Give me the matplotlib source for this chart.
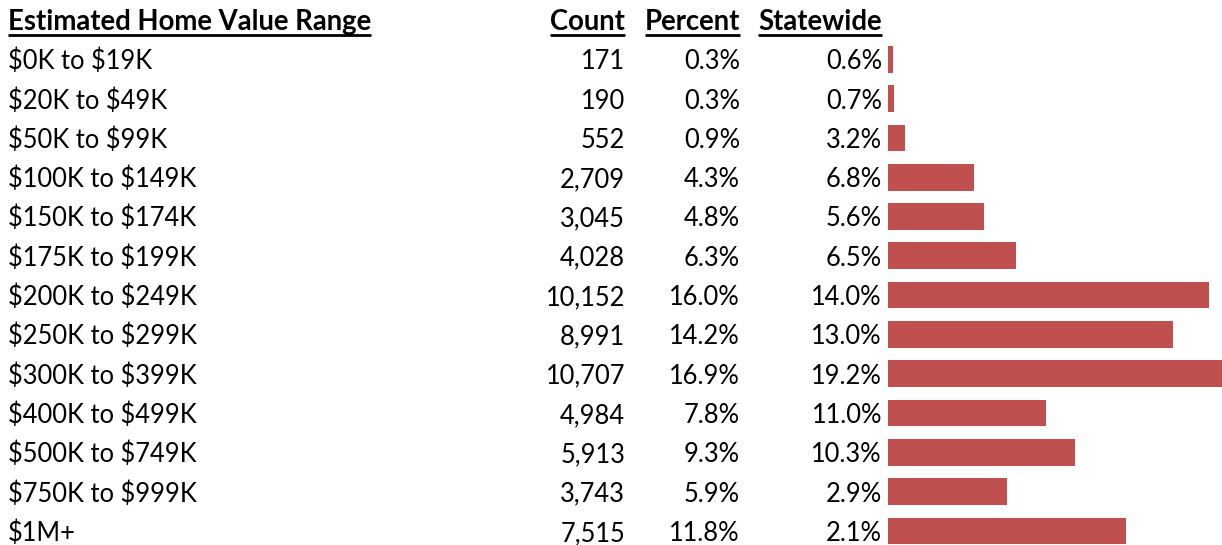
import matplotlib
matplotlib.use("Agg")
import matplotlib.pyplot as plt
from matplotlib.lines import Line2D
import matplotlib.transforms as mtransforms

plt.rcParams["text.parse_math"] = False

# Home value distribution table with count bars
ranges = ["$0K to $19K", "$20K to $49K", "$50K to $99K", "$100K to $149K",
          "$150K to $174K", "$175K to $199K", "$200K to $249K", "$250K to $299K",
          "$300K to $399K", "$400K to $499K", "$500K to $749K", "$750K to $999K",
          "$1M+"]
counts = [171, 190, 552, 2709, 3045, 4028, 10152, 8991, 10707, 4984, 5913, 3743, 7515]
percent = [0.3, 0.3, 0.9, 4.3, 4.8, 6.3, 16.0, 14.2, 16.9, 7.8, 9.3, 5.9, 11.8]
statewide = [0.6, 0.7, 3.2, 6.8, 5.6, 6.5, 14.0, 13.0, 19.2, 11.0, 10.3, 2.9, 2.1]
headers = ["Estimated Home Value Range", "Count", "Percent", "Statewide"]

W, H = 1222, 545
FONT = "Lato"
FS = 18.4
FS_HDR = 19.8
BAR_COLOR = "#C0504D"

fig = plt.figure(figsize=(W / 100, H / 100), dpi=100)
fig.patch.set_facecolor("white")

# Bar axes: rows are spaced 39.3 px, first row centred at y=59.3 px
row_px = 39.3
first_px = 59.3
top_px = first_px - 0.5 * row_px
bottom_px = H
n_bottom = (bottom_px - first_px) / row_px
left_px, right_px = 888, 1227
ax = fig.add_axes([left_px / W, 1 - bottom_px / H, (right_px - left_px) / W,
                   (bottom_px - top_px) / H])
y = list(range(len(ranges)))
ax.barh(y, counts, height=0.68, color=BAR_COLOR, edgecolor="none")
ax.set_xlim(0, max(counts))
ax.set_ylim(n_bottom, -0.5)
ax.axis("off")

# Text columns share the bar rows' y scale; baseline sits 10 px below row centre
trans = mtransforms.blended_transform_factory(fig.transFigure, ax.transData)
base_off = 10 / row_px
col_label = 8 / W
col_count = 625 / W
col_pct = 740 / W
col_state = 882 / W

for i in y:
    kw = dict(transform=trans, va="baseline", fontsize=FS, family=FONT,
              color="black")
    yy = i + base_off
    fig.text(col_label, yy, ranges[i], ha="left", **kw)
    fig.text(col_count, yy, f"{counts[i]:,}", ha="right", **kw)
    fig.text(col_pct, yy, f"{percent[i]:.1f}%", ha="right", **kw)
    fig.text(col_state, yy, f"{statewide[i]:.1f}%", ha="right", **kw)

hdr_y = 1 - 30 / H
hkw = dict(va="baseline", fontsize=FS_HDR, family=FONT, fontweight="bold",
           color="black")
hdr_texts = [
    fig.text(col_label, hdr_y, headers[0], ha="left", **hkw),
    fig.text(col_count, hdr_y, headers[1], ha="right", **hkw),
    fig.text(col_pct, hdr_y, headers[2], ha="right", **hkw),
    fig.text(col_state, hdr_y, headers[3], ha="right", **hkw),
]

# Underline the header cells
fig.canvas.draw()
renderer = fig.canvas.get_renderer()
for t in hdr_texts:
    bb = t.get_window_extent(renderer)
    yline = 1 - 35 / H
    fig.add_artist(Line2D([bb.x0 / W, bb.x1 / W], [yline, yline],
                          transform=fig.transFigure, color="black", lw=2.0,
                          solid_capstyle="butt"))

fig.savefig("out.png", dpi=100)
